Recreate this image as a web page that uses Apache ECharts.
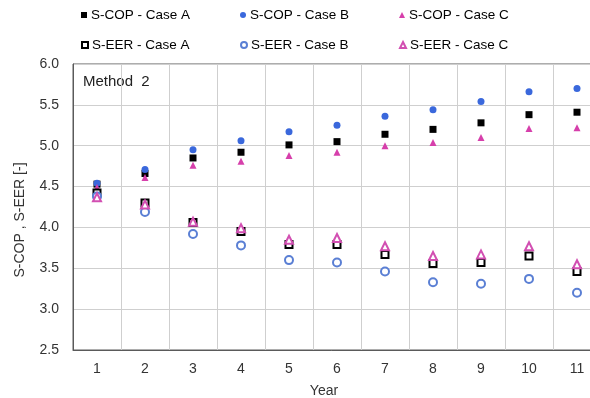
<!DOCTYPE html>
<html>
<head>
<meta charset="utf-8">
<script src="https://cdn.jsdelivr.net/npm/echarts@6/dist/echarts.min.js"></script>
<style>
html,body{margin:0;padding:0;background:#fff;}
#chart{width:590px;height:398px;}
</style>
</head>
<body>
<div id="chart"></div>
<script>
const years = ['1','2','3','4','5','6','7','8','9','10','11'];
const yTicks = [2.5, 3.0, 3.5, 4.0, 4.5, 5.0, 5.5, 6.0];
const scopA = [4.53, 4.66, 4.85, 4.92, 5.01, 5.05, 5.14, 5.20, 5.28, 5.38, 5.41];
const scopB = [4.54, 4.71, 4.95, 5.06, 5.17, 5.25, 5.36, 5.44, 5.54, 5.66, 5.70];
const scopC = [4.49, 4.61, 4.76, 4.81, 4.88, 4.92, 5.00, 5.04, 5.10, 5.21, 5.22];
const seerA = [4.42, 4.30, 4.06, 3.95, 3.79, 3.79, 3.67, 3.56, 3.57, 3.65, 3.46];
const seerB = [4.38, 4.19, 3.92, 3.78, 3.60, 3.57, 3.46, 3.33, 3.31, 3.37, 3.20];
const seerC = [4.37, 4.28, 4.07, 3.99, 3.85, 3.87, 3.77, 3.65, 3.67, 3.77, 3.55];
const seriesNames = ['S-COP - Case A','S-COP - Case B','S-COP - Case C','S-EER - Case A','S-EER - Case B','S-EER - Case C'];

const FONT = '"Liberation Sans", Arial, sans-serif';
const specs = [
  {name: seriesNames[0], data: scopA, symbol: 'rect', color: '#000000', size: 7, empty: false},
  {name: seriesNames[1], data: scopB, symbol: 'circle', color: '#3a68dc', size: 7, empty: false},
  {name: seriesNames[2], data: scopC, symbol: 'triangle', color: '#d63fab', size: 7, empty: false},
  {name: seriesNames[3], data: seerA, symbol: 'emptyRect', color: '#000000', size: 7, empty: true},
  {name: seriesNames[4], data: seerB, symbol: 'emptyCircle', color: '#5a7fd4', size: 8, empty: true},
  {name: seriesNames[5], data: seerC, symbol: 'emptyTriangle', color: '#d24fb2', size: 8, empty: true}
];

const series = specs.map(s => ({
  type: 'scatter',
  name: s.name,
  data: s.data,
  symbol: s.symbol,
  symbolSize: s.size,
  itemStyle: s.empty ? {color: s.color, borderColor: s.color, borderWidth: 1.5, opacity: 1}
                     : {color: s.color, opacity: 1},
  emphasis: {disabled: true}
}));

const legendPos = [
  {left: 81, top: 8}, {left: 240, top: 8}, {left: 399, top: 8},
  {left: 81, top: 38}, {left: 240, top: 38}, {left: 399, top: 38}
];
const legends = specs.map((s, i) => ({
  data: [{name: s.name, icon: s.symbol}],
  left: legendPos[i].left,
  top: legendPos[i].top,
  itemWidth: 6,
  itemHeight: 6,
  itemGap: 0,
  padding: 0,
  selectedMode: false,
  itemStyle: s.empty ? {borderWidth: 1, opacity: 1} : {opacity: 1},
  textStyle: {fontFamily: FONT, fontSize: 13.5, color: '#000', padding: [0, 0, 0, -1]}
}));

const chart = echarts.init(document.getElementById('chart'), null, {renderer: 'canvas'});
chart.setOption({
  animation: false,
  backgroundColor: '#fff',
  legend: legends,
  grid: {
    left: 73, top: 64, width: 528, height: 286,
    show: true, borderColor: '#5a5a5a', borderWidth: 1,
    outerBoundsMode: 'none', containLabel: false
  },
  xAxis: {
    type: 'category',
    data: years,
    boundaryGap: true,
    axisLine: {show: true, lineStyle: {color: '#5a5a5a', width: 1}},
    axisTick: {show: false},
    splitLine: {show: true, lineStyle: {color: '#cfcfcf', width: 1}},
    axisLabel: {fontFamily: FONT, fontSize: 14, color: '#333', margin: 12}
  },
  yAxis: {
    type: 'value',
    min: yTicks[0],
    max: yTicks[yTicks.length - 1],
    interval: 0.5,
    axisLine: {show: true, lineStyle: {color: '#5a5a5a', width: 1}},
    axisTick: {show: false},
    splitLine: {show: true, lineStyle: {color: '#cfcfcf', width: 1}},
    axisLabel: {fontFamily: FONT, fontSize: 14, color: '#333', margin: 14,
      formatter: v => v.toFixed(1)}
  },
  graphic: [
    {type: 'text', left: 83, top: 74, style: {text: 'Method  2', font: '15px ' + FONT, fill: '#222'}},
    {type: 'text', x: 20, y: 220, rotation: Math.PI / 2,
      style: {text: 'S-COP , S-EER [-]', font: '14px ' + FONT, fill: '#333', align: 'center', verticalAlign: 'middle'}},
    {type: 'text', x: 324, y: 391,
      style: {text: 'Year', font: '14px ' + FONT, fill: '#333', align: 'center', verticalAlign: 'middle'}}
  ],
  series: series
});
</script>
</body>
</html>
